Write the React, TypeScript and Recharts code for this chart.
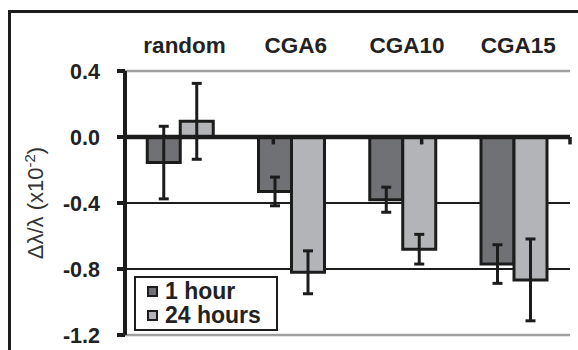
import React from 'react';
import { BarChart, Bar, XAxis, YAxis, CartesianGrid, ReferenceLine, ErrorBar, Legend } from 'recharts';

const categories = ['random', 'CGA6', 'CGA10', 'CGA15'];
const oneHour = [-0.155, -0.33, -0.38, -0.77];
const oneHourErr = [0.22, 0.087, 0.076, 0.117];
const twentyFourHours = [0.095, -0.82, -0.68, -0.866];
const twentyFourHoursErr = [0.23, 0.13, 0.09, 0.248];
const yTicks = [0.4, 0, -0.4, -0.8, -1.2];
const boundaryTicks = [1, 2, 3, 4];
const seriesNames = ['1 hour', '24 hours'];

const data = categories.map((name, i) => ({
  name,
  h1: oneHour[i],
  e1: oneHourErr[i],
  h24: twentyFourHours[i],
  e24: twentyFourHoursErr[i],
}));

const FONT = '"Liberation Sans", Arial, Helvetica, sans-serif';
const INK = '#1c1c1c';
const DARK = '#707174';
const LIGHT = '#b2b4b7';
const BORDER_GRAY = '#a0a0a0';

const CatTick = (props: any) => {
  const { x, y, payload } = props;
  return (
    <text x={x + 4} y={y - 18} textAnchor="middle" fontFamily={FONT} fontSize={22.5} fontWeight={700} fill="#222">
      {payload.value}
    </text>
  );
};

const YLabel = (props: any) => {
  const vb = props.viewBox || { x: 0, y: 0, width: 0, height: 0 };
  const cx = vb.x + 43;
  const cy = vb.y + vb.height / 2;
  return (
    <text
      x={cx}
      y={cy}
      transform={`rotate(-90, ${cx}, ${cy})`}
      textAnchor="middle"
      fontFamily={FONT}
      fontSize={22}
      fill="#333"
    >
      Δλ/λ (x10
      <tspan dy={-8} fontSize={15}>-2</tspan>
      <tspan dy={8}>)</tspan>
    </text>
  );
};

const LegendContent = (props: any) => {
  const payload = props.payload || [];
  const colors = [DARK, LIGHT];
  return (
    <div
      style={{
        width: 144,
        height: 55,
        boxSizing: 'border-box',
        border: `2px solid ${INK}`,
        background: '#fff',
        paddingTop: 1,
        paddingLeft: 11,
        fontFamily: FONT,
        fontWeight: 700,
        fontSize: 23,
        color: '#222',
      }}
    >
      {seriesNames.map((n, i) => (
        <div key={n} style={{ display: 'flex', alignItems: 'center', height: 24, lineHeight: '24px' }}>
          <span
            style={{
              display: 'inline-block',
              width: 11,
              height: 11,
              boxSizing: 'border-box',
              border: `2px solid ${INK}`,
              background: (payload[i] && payload[i].color) || colors[i],
              marginRight: 7,
            }}
          />
          <span>{n}</span>
        </div>
      ))}
    </div>
  );
};

export default function App() {
  return (
    <div style={{ position: 'fixed', left: 0, top: 0, width: 578, height: 350, overflow: 'hidden', background: '#fff' }}>
      <div
        style={{
          position: 'absolute',
          left: 8,
          top: 10,
          width: 640,
          height: 420,
          border: `3px solid ${INK}`,
          boxSizing: 'border-box',
        }}
      />
      <div style={{ position: 'absolute', left: 0, top: 0 }}>
        <BarChart
          width={578}
          height={350}
          data={data}
          margin={{ top: 41, right: 8, bottom: 15, left: 0 }}
          barCategoryGap="20%"
          barGap={0}
        >
          <CartesianGrid vertical={false} stroke={INK} strokeWidth={2} />
          <XAxis
            dataKey="name"
            orientation="top"
            height={30}
            axisLine={false}
            tickLine={false}
            tickSize={0}
            tickMargin={0}
            interval={0}
            tick={<CatTick />}
          />
          <XAxis xAxisId="n" type="number" domain={[0, 4]} hide />
          <YAxis
            domain={[-1.2, 0.4]}
            ticks={yTicks}
            interval={0}
            width={125}
            tickSize={8}
            tickMargin={17}
            allowDataOverflow
            axisLine={{ stroke: INK, strokeWidth: 4 }}
            tickLine={{ stroke: INK, strokeWidth: 4 }}
            tick={{ fontSize: 21.5, fontWeight: 700, fill: '#222', fontFamily: FONT }}
            tickFormatter={(v: number) => v.toFixed(1)}
            label={{ content: <YLabel /> }}
          />
          <ReferenceLine y={0.4} stroke={BORDER_GRAY} strokeWidth={2.5} />
          <ReferenceLine y={-1.2} stroke={BORDER_GRAY} strokeWidth={2.5} />
          <ReferenceLine xAxisId="n" x={4} stroke={BORDER_GRAY} strokeWidth={2.5} />
          <Bar dataKey="h1" name={seriesNames[0]} fill={DARK} stroke={INK} strokeWidth={3} isAnimationActive={false}>
            <ErrorBar dataKey="e1" width={5} stroke={INK} strokeWidth={3} />
          </Bar>
          <Bar dataKey="h24" name={seriesNames[1]} fill={LIGHT} stroke={INK} strokeWidth={3} isAnimationActive={false}>
            <ErrorBar dataKey="e24" width={5} stroke={INK} strokeWidth={3} />
          </Bar>
          <ReferenceLine y={0} stroke={INK} strokeWidth={4.5} />
          {boundaryTicks.map((b) => (
            <ReferenceLine
              key={b}
              xAxisId="n"
              segment={[{ x: b, y: 0 }, { x: b, y: -0.045 }]}
              stroke={INK}
              strokeWidth={3.5}
            />
          ))}
          <Legend
            layout="horizontal"
            verticalAlign="middle"
            align="center"
            wrapperStyle={{ position: 'absolute', left: 134, top: 276, width: 144, height: 55 }}
            content={<LegendContent />}
          />
        </BarChart>
      </div>
    </div>
  );
}
